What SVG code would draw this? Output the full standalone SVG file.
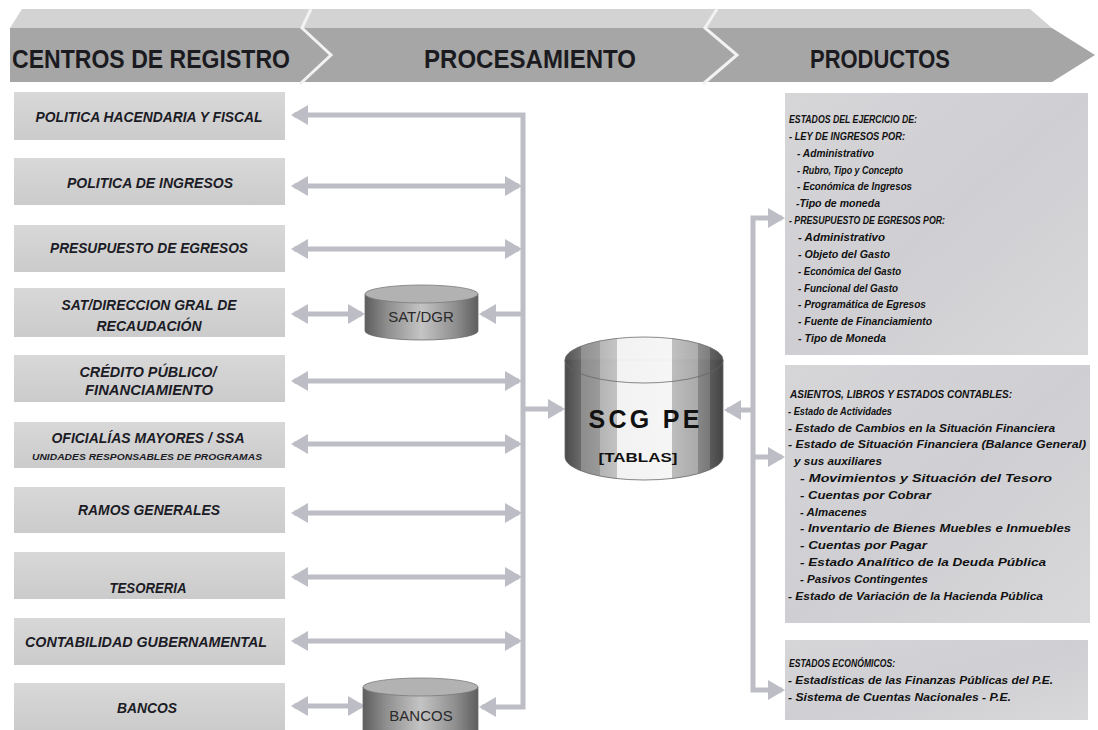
<svg xmlns="http://www.w3.org/2000/svg" width="1098" height="730" viewBox="0 0 1098 730">
<style>
.hdr{font-family:"Liberation Sans",Arial,sans-serif;font-weight:bold;font-size:25px;fill:#1b1b1f}
.lt{font-family:"Liberation Sans",Arial,sans-serif;font-weight:bold;font-style:italic;font-size:14px;fill:#1c1c26;text-anchor:middle}
.lts{font-family:"Liberation Sans",Arial,sans-serif;font-weight:bold;font-style:italic;font-size:8.5px;fill:#1c1c26;text-anchor:middle}
.rt{font-family:"Liberation Sans",Arial,sans-serif;font-weight:bold;font-style:italic;font-size:10.5px;fill:#111}
.cyl{font-family:"Liberation Sans",Arial,sans-serif;font-size:15px;fill:#2a2a2a;text-anchor:middle}
.lbox{fill:url(#lg);}
.rbox{fill:url(#rg);}
.conn{fill:none;stroke:#bdbdc6;stroke-width:5}
</style>
<defs>
<linearGradient id="lg" x1="0" y1="0" x2="0" y2="1">
<stop offset="0" stop-color="#d8d8d8"/><stop offset="1" stop-color="#cbcbcb"/>
</linearGradient>
<linearGradient id="rg" x1="0" y1="0" x2="1" y2="1">
<stop offset="0" stop-color="#d6d6d9"/><stop offset="0.5" stop-color="#cfcfd3"/><stop offset="1" stop-color="#d8d8da"/>
</linearGradient>
<linearGradient id="cylS" x1="0" y1="0" x2="1" y2="0">
<stop offset="0" stop-color="#5e5e5e"/><stop offset="0.2" stop-color="#8f8f8f"/><stop offset="0.5" stop-color="#c4c4c4"/><stop offset="0.8" stop-color="#8f8f8f"/><stop offset="1" stop-color="#5e5e5e"/>
</linearGradient>
<linearGradient id="cylB" x1="0" y1="0" x2="1" y2="0">
<stop offset="0" stop-color="#4a4a4a"/><stop offset="0.1" stop-color="#6a6a6a"/>
<stop offset="0.1" stop-color="#8c8c8c"/><stop offset="0.22" stop-color="#9a9a9a"/>
<stop offset="0.22" stop-color="#b4b4b4"/><stop offset="0.33" stop-color="#c2c2c2"/>
<stop offset="0.33" stop-color="#f2f2f2"/><stop offset="0.68" stop-color="#f6f6f6"/>
<stop offset="0.68" stop-color="#bdbdbd"/><stop offset="0.84" stop-color="#aaaaaa"/>
<stop offset="0.84" stop-color="#888888"/><stop offset="0.92" stop-color="#777777"/>
<stop offset="0.92" stop-color="#5a5a5a"/><stop offset="1" stop-color="#444444"/>
</linearGradient>
<marker id="ah" markerUnits="userSpaceOnUse" markerWidth="18" markerHeight="20" refX="14" refY="10" orient="auto-start-reverse">
<path d="M0,0 L17,10 L0,20 Z" fill="#bdbdc6"/>
</marker>
</defs>

<rect width="1098" height="730" fill="#ffffff"/>

<g id="header">
<polygon points="22,9 1030,9 1052,28 10,28" fill="#d3d3d3"/>
<polygon points="10,28 1052,28 1095,55 1052,82 10,82" fill="#a6a6a6"/>
<polyline points="311,9 302,28 331,55 300,84" fill="none" stroke="#f2f2f2" stroke-width="3"/>
<polyline points="717,9 705,28 737,55 703,84" fill="none" stroke="#f2f2f2" stroke-width="3"/>
<text class="hdr" x="12" y="68" textLength="278" lengthAdjust="spacingAndGlyphs">CENTROS DE REGISTRO</text>
<text class="hdr" x="424" y="68" textLength="212" lengthAdjust="spacingAndGlyphs">PROCESAMIENTO</text>
<text class="hdr" x="810" y="68" textLength="140" lengthAdjust="spacingAndGlyphs">PRODUCTOS</text>
</g>

<g id="connectors">
<path class="conn" d="M294,115 H523 V707 H482" marker-start="url(#ah)" marker-end="url(#ah)"/>
<path class="conn" d="M294,186 H519" marker-start="url(#ah)" marker-end="url(#ah)"/>
<path class="conn" d="M294,249 H519" marker-start="url(#ah)" marker-end="url(#ah)"/>
<path class="conn" d="M294,314 H362" marker-start="url(#ah)" marker-end="url(#ah)"/>
<path class="conn" d="M523,314 H482" marker-end="url(#ah)"/>
<path class="conn" d="M294,381 H519" marker-start="url(#ah)" marker-end="url(#ah)"/>
<path class="conn" d="M294,444 H519" marker-start="url(#ah)" marker-end="url(#ah)"/>
<path class="conn" d="M294,513 H519" marker-start="url(#ah)" marker-end="url(#ah)"/>
<path class="conn" d="M294,577 H519" marker-start="url(#ah)" marker-end="url(#ah)"/>
<path class="conn" d="M294,641 H519" marker-start="url(#ah)" marker-end="url(#ah)"/>
<path class="conn" d="M294,706 H362" marker-start="url(#ah)" marker-end="url(#ah)"/>
<path class="conn" d="M523,409 H562" marker-end="url(#ah)"/>
<path class="conn" d="M753,410 H727" marker-end="url(#ah)"/>
<path class="conn" d="M782,218 H753 V690 H782" marker-start="url(#ah)" marker-end="url(#ah)"/>
<path class="conn" d="M753,457 H782" marker-end="url(#ah)"/>
</g>

<g id="n-politica-hacendaria"><rect class="lbox" x="14" y="92" width="271" height="48"/>
<text class="lt" x="149" y="122" textLength="227" lengthAdjust="spacingAndGlyphs">POLITICA HACENDARIA Y FISCAL</text></g>
<g id="n-politica-ingresos"><rect class="lbox" x="14" y="158" width="271" height="47"/>
<text class="lt" x="150" y="188" textLength="166" lengthAdjust="spacingAndGlyphs">POLITICA DE  INGRESOS</text></g>
<g id="n-presupuesto"><rect class="lbox" x="14" y="225" width="271" height="47"/>
<text class="lt" x="149" y="253" textLength="198" lengthAdjust="spacingAndGlyphs">PRESUPUESTO DE EGRESOS</text></g>
<g id="n-sat"><rect class="lbox" x="14" y="288" width="271" height="49"/>
<text class="lt" x="149" y="310" textLength="175" lengthAdjust="spacingAndGlyphs">SAT/DIRECCION GRAL DE</text>
<text class="lt" x="149" y="331" textLength="105" lengthAdjust="spacingAndGlyphs">RECAUDACIÓN</text></g>
<g id="n-credito"><rect class="lbox" x="14" y="355" width="271" height="47"/>
<text class="lt" x="148" y="377" textLength="137" lengthAdjust="spacingAndGlyphs">CRÉDITO PÚBLICO/</text>
<text class="lt" x="149" y="395" textLength="128" lengthAdjust="spacingAndGlyphs">FINANCIAMIENTO</text></g>
<g id="n-oficialias"><rect class="lbox" x="14" y="422" width="271" height="46"/>
<text class="lt" x="148" y="443" textLength="193" lengthAdjust="spacingAndGlyphs">OFICIALÍAS MAYORES / SSA</text>
<text class="lts" x="147" y="460" textLength="230" lengthAdjust="spacingAndGlyphs">UNIDADES RESPONSABLES DE PROGRAMAS</text></g>
<g id="n-ramos"><rect class="lbox" x="14" y="487" width="271" height="46"/>
<text class="lt" x="149" y="515" textLength="142" lengthAdjust="spacingAndGlyphs">RAMOS GENERALES</text></g>
<g id="n-tesoreria"><rect class="lbox" x="14" y="552" width="271" height="47"/>
<text class="lt" x="148" y="593" textLength="77" lengthAdjust="spacingAndGlyphs">TESORERIA</text></g>
<g id="n-contabilidad"><rect class="lbox" x="14" y="618" width="271" height="47"/>
<text class="lt" x="146" y="647" textLength="242" lengthAdjust="spacingAndGlyphs">CONTABILIDAD GUBERNAMENTAL</text></g>
<g id="n-bancos"><rect class="lbox" x="14" y="683" width="271" height="47"/>
<text class="lt" x="147" y="713" textLength="60" lengthAdjust="spacingAndGlyphs">BANCOS</text></g>

<g id="n-sat-dgr">
<path d="M365,294 V331 A56.5,9 0 0 0 478,331 V294 Z" fill="url(#cylS)" stroke="#6a6a6a" stroke-width="0.8"/>
<ellipse cx="421.5" cy="294" rx="56.5" ry="9" fill="#b2b2b2" stroke="#7a7a7a" stroke-width="0.8"/>
<text class="cyl" x="421" y="322">SAT/DGR</text>
</g>

<g id="n-bancos-db">
<path d="M363,687 V740 H478 V687 Z" fill="url(#cylS)" stroke="#6a6a6a" stroke-width="0.8"/>
<ellipse cx="420.5" cy="687" rx="57.5" ry="9" fill="#b2b2b2" stroke="#7a7a7a" stroke-width="0.8"/>
<text class="cyl" x="421" y="721">BANCOS</text>
</g>

<g id="n-scg-pe">
<path d="M565,360 V457 A79,23 0 0 0 723,457 V360 Z" fill="url(#cylB)" stroke="#666" stroke-width="0.8"/>
<ellipse cx="644" cy="360" rx="79" ry="23" fill="url(#cylB)" stroke="#666" stroke-width="0.8" opacity="0.95"/>
<text x="644" y="428" text-anchor="middle" font-family="Liberation Sans, Arial, sans-serif" font-weight="bold" font-size="25" fill="#111" textLength="111" lengthAdjust="spacing">SCG PE</text>
<text x="638" y="462" text-anchor="middle" font-family="Liberation Sans, Arial, sans-serif" font-weight="bold" font-size="13" fill="#111" textLength="79" lengthAdjust="spacingAndGlyphs">[TABLAS]</text>
</g>

<g id="n-estados-ejercicio">
<rect class="rbox" x="785" y="93" width="303" height="262"/>
<text class="rt" x="789" y="123" textLength="128" lengthAdjust="spacingAndGlyphs">ESTADOS DEL EJERCICIO DE:</text>
<text class="rt" x="789" y="140" textLength="116" lengthAdjust="spacingAndGlyphs">- LEY DE INGRESOS POR:</text>
<text class="rt" x="797" y="157" textLength="77" lengthAdjust="spacingAndGlyphs">- Administrativo</text>
<text class="rt" x="797" y="174" textLength="106" lengthAdjust="spacingAndGlyphs">- Rubro, Tipo y Concepto</text>
<text class="rt" x="797" y="190" textLength="115" lengthAdjust="spacingAndGlyphs">- Económica de Ingresos</text>
<text class="rt" x="796" y="207" textLength="84" lengthAdjust="spacingAndGlyphs">-Tipo de moneda</text>
<text class="rt" x="789" y="224" textLength="156" lengthAdjust="spacingAndGlyphs">- PRESUPUESTO DE EGRESOS POR:</text>
<text class="rt" x="798" y="241" textLength="87" lengthAdjust="spacingAndGlyphs">- Administrativo</text>
<text class="rt" x="798" y="258" textLength="92" lengthAdjust="spacingAndGlyphs">- Objeto del Gasto</text>
<text class="rt" x="798" y="275" textLength="103" lengthAdjust="spacingAndGlyphs">- Económica del Gasto</text>
<text class="rt" x="798" y="292" textLength="100" lengthAdjust="spacingAndGlyphs">- Funcional del Gasto</text>
<text class="rt" x="798" y="308" textLength="128" lengthAdjust="spacingAndGlyphs">- Programática de Egresos</text>
<text class="rt" x="798" y="325" textLength="134" lengthAdjust="spacingAndGlyphs">- Fuente de Financiamiento</text>
<text class="rt" x="798" y="342" textLength="88" lengthAdjust="spacingAndGlyphs">- Tipo de Moneda</text>
</g>

<g id="n-asientos">
<rect class="rbox" x="785" y="365" width="305" height="258"/>
<text class="rt" x="790" y="398" textLength="222" lengthAdjust="spacingAndGlyphs">ASIENTOS, LIBROS Y ESTADOS CONTABLES:</text>
<text class="rt" x="788" y="415" textLength="104" lengthAdjust="spacingAndGlyphs">- Estado de Actividades</text>
<text class="rt" x="788" y="432" textLength="267" lengthAdjust="spacingAndGlyphs">- Estado de Cambios en la Situación Financiera</text>
<text class="rt" x="788" y="448" textLength="298" lengthAdjust="spacingAndGlyphs">- Estado de Situación Financiera (Balance General)</text>
<text class="rt" x="794" y="465" textLength="88" lengthAdjust="spacingAndGlyphs">y sus auxiliares</text>
<text class="rt" x="800" y="482" textLength="252" lengthAdjust="spacingAndGlyphs">- Movimientos y Situación del Tesoro</text>
<text class="rt" x="800" y="499" textLength="131" lengthAdjust="spacingAndGlyphs">- Cuentas por Cobrar</text>
<text class="rt" x="800" y="516" textLength="67" lengthAdjust="spacingAndGlyphs">- Almacenes</text>
<text class="rt" x="800" y="532" textLength="271" lengthAdjust="spacingAndGlyphs">- Inventario de Bienes Muebles e Inmuebles</text>
<text class="rt" x="800" y="549" textLength="127" lengthAdjust="spacingAndGlyphs">- Cuentas por Pagar</text>
<text class="rt" x="800" y="566" textLength="246" lengthAdjust="spacingAndGlyphs">- Estado Analítico de la Deuda Pública</text>
<text class="rt" x="800" y="583" textLength="128" lengthAdjust="spacingAndGlyphs">- Pasivos Contingentes</text>
<text class="rt" x="788" y="600" textLength="255" lengthAdjust="spacingAndGlyphs">- Estado de Variación de la Hacienda Pública</text>
</g>

<g id="n-estados-economicos">
<rect class="rbox" x="785" y="640" width="303" height="80"/>
<text class="rt" x="789" y="667" textLength="106" lengthAdjust="spacingAndGlyphs">ESTADOS ECONÓMICOS:</text>
<text class="rt" x="788" y="684" textLength="265" lengthAdjust="spacingAndGlyphs">- Estadísticas de las Finanzas Públicas del P.E.</text>
<text class="rt" x="788" y="701" textLength="223" lengthAdjust="spacingAndGlyphs">- Sistema de Cuentas Nacionales -  P.E.</text>
</g>
</svg>
